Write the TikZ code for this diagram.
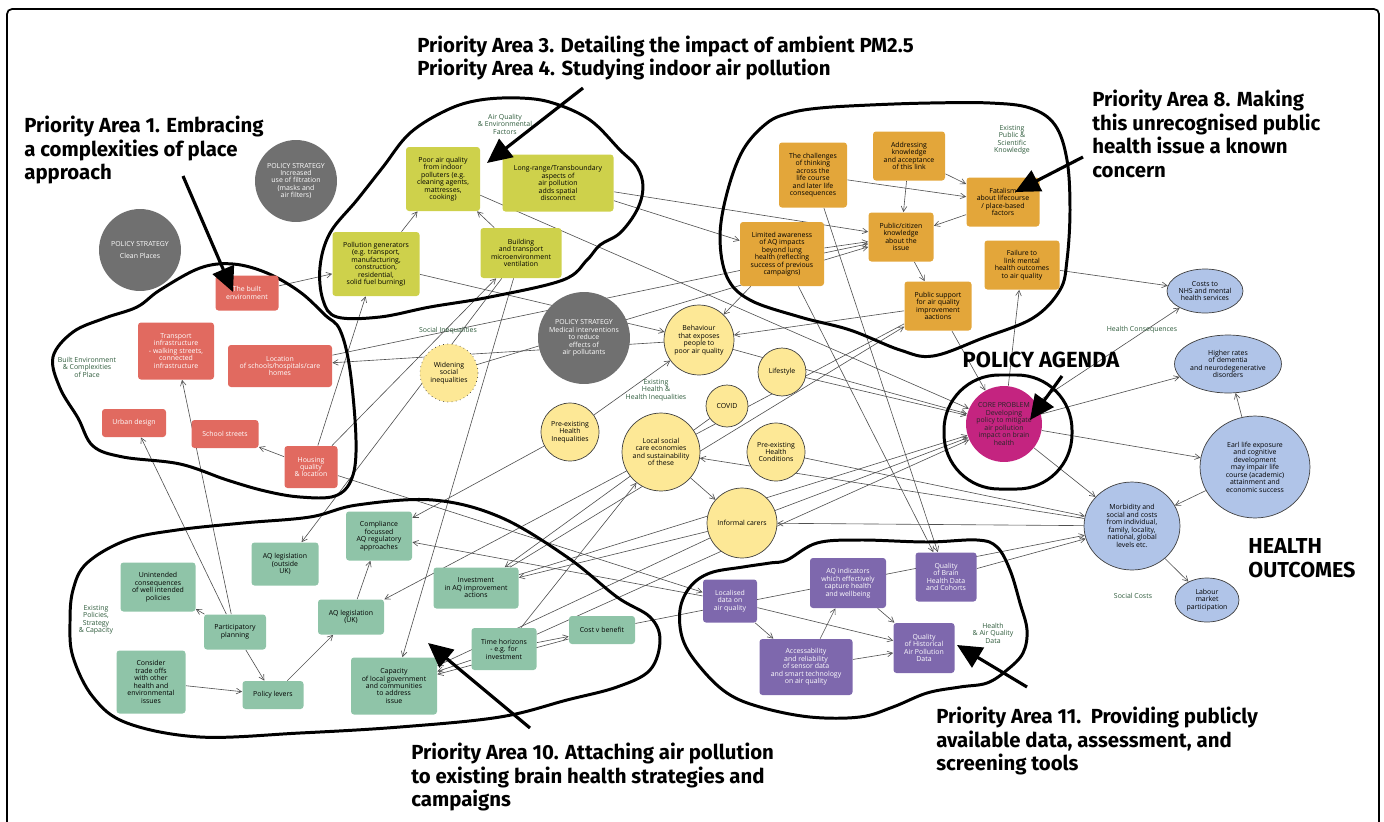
\documentclass[tikz,border=0pt]{standalone}
\usepackage{fontspec}
\setmainfont{Open Sans}
\newfontfamily\titlefont{Fira Sans}
\usepackage{xcolor}
\usetikzlibrary{arrows.meta,shapes.geometric,backgrounds}

\definecolor{cRed}{RGB}{225,106,96}
\definecolor{cOlive}{RGB}{206,209,75}
\definecolor{cOrange}{RGB}{227,166,58}
\definecolor{cYellow}{RGB}{253,232,150}
\definecolor{cGray}{RGB}{112,112,112}
\definecolor{cCore}{RGB}{196,36,128}
\definecolor{cBlue}{RGB}{176,196,232}
\definecolor{cGreen}{RGB}{143,196,168}
\definecolor{cPurple}{RGB}{126,104,173}
\definecolor{cLabel}{RGB}{45,90,58}
\definecolor{cLink}{RGB}{80,80,80}

\newcommand\nodefont{\fontsize{3.95}{4.25}\selectfont}
\newcommand\titlesize{\titlefont\bfseries\fontsize{11.6}{13.4}\selectfont}

\begin{document}
\begin{tikzpicture}[x=0.02cm,y=-0.02cm,
  sz/.style 2 args={minimum width=#1*0.02cm,minimum height=#2*0.02cm},
  box/.style={rectangle,rounded corners=0.06cm,align=center,inner sep=0.5pt,font=\nodefont},
  env/.style={box,fill=cRed,text=white},
  aq/.style={box,fill=cOlive},
  know/.style={box,fill=cOrange},
  pol/.style={box,fill=cGreen},
  aqdata/.style={box,fill=cPurple,text=white},
  disc/.style={circle,inner sep=0pt,align=center,font=\nodefont,minimum size=#1*0.04cm},
  strat/.style={disc=#1,fill=cGray,text=white},
  ineq/.style={disc=#1,fill=cYellow,draw=black!75,line width=0.4pt},
  oval/.style 2 args={ellipse,inner sep=0pt,align=center,font=\nodefont,minimum width=#1*0.04cm,minimum height=#2*0.04cm,fill=cBlue,draw=black!75,line width=0.4pt},
  lbl/.style={font=\nodefont,text=cLabel,align=center},
  title/.style={font=\titlesize,align=left,inner sep=0pt,anchor=west},
  link/.style={draw=cLink,line width=0.35pt,-{Straight Barb[length=3pt,width=3.2pt]}},
  blob/.style={line width=1.7pt,line join=round},
  bigarrow/.style={line width=1.8pt,-{Triangle[length=14pt,width=13pt]}}]
\useasboundingbox (0,0) rectangle (1384,822);
\draw[line width=1pt,rounded corners=0.1cm] (7,9) rectangle (1379,840);

% policy strategies
\node[strat=41] (clean) at (140,250) {POLICY STRATEGY\\[3pt]Clean Places};
\node[strat=41] (filter) at (296,181) {POLICY STRATEGY\\Increased\\use of filtration\\(masks and\\air filters)};
\node[strat=46] (medical) at (584,338) {POLICY STRATEGY\\Medical interventions\\to reduce\\effects of\\air pollutants};

% built environment
\node[env,sz={63}{35}] (built) at (247,293) {The built\\environment};
\node[env,sz={76}{57}] (transport) at (176,351) {Transport\\infrastructure\\- walking streets,\\connected\\infrastructure};
\node[env,sz={104}{42}] (location) at (280,366) {Location\\of schools/hospitals/care\\homes};
\node[env,sz={64}{28}] (urban) at (134,423) {Urban design};
\node[env,sz={67}{28}] (school) at (225,434) {School streets};
\node[env,sz={53}{42}] (housing) at (311,467) {Housing\\quality\\\& location};

% air quality
\node[aq,sz={74}{64}] (poorair) at (443,179) {Poor air quality\\from indoor\\polluters (e.g.\\cleaning agents,\\mattresses,\\cooking)};
\node[aq,sz={111}{57}] (longrange) at (558,183) {Long-range/Transboundary\\aspects of\\air pollution\\adds spatial\\disconnect};
\node[aq,sz={87}{64}] (pollgen) at (376,264) {Pollution generators\\(e.g. transport,\\manufacturing,\\construction,\\residential,\\solid fuel burning)};
\node[aq,sz={81}{50}] (building) at (521,253) {Building\\and transport\\microenvironment\\ventilation};

% knowledge
\node[know,sz={68}{65}] (challenges) at (813,175) {The challenges\\of thinking\\across the\\life course\\and later life\\consequences};
\node[know,sz={72}{49}] (addressing) at (909,156) {Addressing\\knowledge\\and acceptance\\of this link};
\node[know,sz={73}{49}] (fatalism) at (1003,202) {Fatalism\\about lifecourse\\/ place-based\\factors};
\node[know,sz={65}{49}] (publiccit) at (901,237) {Public/citizen\\knowledge\\about the\\issue};
\node[know,sz={84}{64}] (limited) at (782,254) {Limited awareness\\of AQ impacts\\beyond lung\\health (reflecting\\success of previous\\campaigns)};
\node[know,sz={67}{49}] (support) at (938,306) {Public support\\for air quality\\improvement\\aactions};
\node[know,sz={75}{49}] (failure) at (1022,265) {Failure to\\link mental\\health outcomes\\to air quality};

% health and inequalities
\node[ineq=29,dotted] (widening) at (449,373) {Widening\\social\\inequalities};
\node[ineq=35] (behaviour) at (699,340) {Behaviour\\that exposes\\people to\\poor air quality};
\node[ineq=24] (lifestyle) at (782,372) {Lifestyle};
\node[ineq=21] (covid) at (727,406) {COVID};
\node[ineq=29] (prehi) at (570,432) {Pre-existing\\Health\\Inequalities};
\node[ineq=39] (localcare) at (661,452) {Local social\\care economies\\and sustainability\\of these};
\node[ineq=29] (prehc) at (776,452) {Pre-existing\\Health\\Conditions};
\node[ineq=35] (carers) at (742,523) {Informal carers};

\node[disc=38,fill=cCore,text=black!85] (core) at (1004,424) {CORE PROBLEM\\Developing\\policy to mitigate\\air pollution\\impact on brain\\health};

% health outcomes
\node[oval={38}{22}] (costs) at (1205,291) {Costs to\\NHS and mental\\health services};
\node[oval={53}{29}] (higher) at (1228,364) {Higher rates\\of dementia\\and neurodegenerative\\disorders};
\node[oval={55}{51}] (earl) at (1255,467) {Earl life exposure\\and cognitive\\development\\may impair life\\course (academic)\\attainment and\\economic success};
\node[oval={48}{44}] (morbidity) at (1132,526) {Morbidity and\\social and costs\\from individual,\\family, locality,\\national, global\\levels etc.};
\node[oval={32}{22}] (labour) at (1207,600) {Labour\\market\\participation};

% policies
\node[pol,sz={66}{49}] (compliance) at (379,536) {Compliance\\focussed\\AQ regulatory\\approaches};
\node[pol,sz={67}{43}] (aqout) at (285,564) {AQ legislation\\(outside\\UK)};
\node[pol,sz={75}{49}] (unintended) at (158,587) {Unintended\\consequences\\of well intended\\policies};
\node[pol,sz={62}{35}] (partic) at (235,632) {Participatory\\planning};
\node[pol,sz={66}{35}] (aquk) at (351,617) {AQ legislation\\(UK)};
\node[pol,sz={69}{63}] (tradeoffs) at (151,682) {Consider\\trade offs\\with other\\health and\\environmental\\issues};
\node[pol,sz={61}{28}] (levers) at (273,695) {Policy levers};
\node[pol,sz={86}{57}] (capacity) at (394,686) {Capacity\\of local government\\and communities\\to address\\issue};
\node[pol,sz={85}{41}] (investment) at (476,588) {Investment\\in AQ improvement\\actions};
\node[pol,sz={65}{42}] (timeh) at (504,649) {Time horizons\\- e.g. for\\investment};
\node[pol,sz={66}{28}] (costv) at (602,630) {Cost v benefit};

% data
\node[aqdata,sz={54}{43}] (localised) at (730,601) {Localised\\data on\\air quality};
\node[aqdata,sz={76}{50}] (aqind) at (848,583) {AQ indicators\\which effectively\\capture health\\and wellbeing};
\node[aqdata,sz={61}{49}] (qbrain) at (946,577) {Quality\\of Brain\\Health Data\\and Cohorts};
\node[aqdata,sz={93}{56}] (accessab) at (806,667) {Accessability\\and reliability\\of sensor data\\and smart technology\\on air quality};
\node[aqdata,sz={61}{50}] (qhist) at (924,648) {Quality\\of Historical\\Air Pollution\\Data};

% cluster labels
\node[lbl] at (87,367) {Built Environment\\\& Complexities\\of Place};
\node[lbl] at (505,124) {Air Quality\\\& Environmental\\Factors};
\node[lbl] at (1012,140) {Existing\\Public \&\\Scientific\\Knowledge};
\node[lbl] at (448,331) {Social Inequalities};
\node[lbl] at (656,390) {Existing\\Health \&\\Health Inequalities};
\node[lbl] at (1142,330) {Health Consequences};
\node[lbl] at (96,620) {Existing\\Policies,\\Strategy\\\& Capacity};
\node[lbl] at (993,633) {Health\\\& Air Quality\\Data};
\node[lbl] at (1133,596) {Social Costs};

% connectors and clusters
\begin{scope}[on background layer]
\foreach \s/\t in {built/pollgen, pollgen/poorair, building/poorair, poorair/core,
  longrange/publiccit, longrange/limited, pollgen/behaviour, building/aqout,
  housing/pollgen, housing/building, housing/school, behaviour/location,
  partic/transport, partic/urban, addressing/publiccit, addressing/fatalism,
  challenges/fatalism, fatalism/publiccit, limited/publiccit, publiccit/support,
  support/behaviour, core/failure, failure/costs, challenges/qbrain,
  limited/qbrain, support/core, lifestyle/core, behaviour/core, carers/core,
  core/higher, core/earl, core/morbidity, earl/higher, earl/morbidity,
  morbidity/labour, core/costs, morbidity/carers, morbidity/localcare,
  qbrain/morbidity, costv/morbidity, prehc/morbidity, localcare/carers,
  partic/unintended, partic/levers, tradeoffs/levers, levers/aquk,
  aquk/compliance, timeh/costv, timeh/capacity, costv/capacity,
  building/capacity, covid/investment, investment/core, timeh/core,
  timeh/localcare, support/aquk, prehi/compliance, localised/compliance,
  prehi/behaviour, limited/behaviour, carers/investment, carers/capacity,
  localised/accessab, localised/qhist, accessab/aqind, accessab/qhist,
  aqind/qhist, housing/localised, investment/support, location/publiccit,
  widening/publiccit}
  \draw[link] (\s) -- (\t);

\draw[blob] plot[smooth cycle,tension=0.6] coordinates {(53,357) (73,332) (105,318)
  (137,307) (160,290) (200,268) (233,264) (267,273) (300,292) (325,315) (340,330)
  (350,370) (356,440) (352,478) (335,496) (300,497) (265,491) (227,480) (180,464)
  (123,457) (93,446) (78,418) (60,388)};
\draw[blob] plot[smooth cycle,tension=0.6] coordinates {(337,317) (323,300) (320,267)
  (330,233) (357,200) (383,167) (410,133) (447,110) (480,100) (520,98) (553,103)
  (590,120) (620,150) (637,167) (643,187) (637,210) (620,233) (600,245) (587,260)
  (563,280) (490,297) (430,307) (380,317)};
\draw[blob] plot[smooth cycle,tension=0.6] coordinates {(767,123) (743,150) (727,193)
  (720,237) (727,277) (750,300) (800,317) (850,330) (900,350) (933,356) (983,338)
  (1033,318) (1060,290) (1067,260) (1070,210) (1067,160) (1055,125) (1030,108)
  (990,103) (930,103) (870,105) (820,108) (790,113)};
\draw[blob] plot[smooth cycle,tension=0.6] coordinates {(70,623) (73,590) (87,563)
  (127,540) (177,530) (243,523) (310,517) (357,505) (433,500) (500,517) (567,557)
  (617,597) (650,617) (660,640) (650,670) (617,687) (567,700) (500,717) (400,727)
  (300,733) (200,737) (127,723) (93,697) (73,657)};
\draw[blob] plot[smooth cycle,tension=0.6] coordinates {(787,560) (817,543) (860,540)
  (927,542) (977,540) (997,547) (1010,570) (1020,603) (1027,630) (1023,653)
  (1007,670) (987,683) (960,687) (927,693) (893,707) (860,717) (810,717) (760,707)
  (727,693) (700,667) (683,640) (680,610) (690,587) (710,573) (743,567) (770,563)};
\draw[blob,rounded corners=1.1cm] (944,375) rectangle (1072,489);
\end{scope}

% titles
\node[title] (pa1) at (24,150) {Priority Area 1. Embracing\\a complexities of place\\approach};
\node[title] (pa3) at (417,58) {Priority Area 3. Detailing the impact of ambient PM2.5\\Priority Area 4. Studying indoor air pollution};
\node[title] (pa8) at (1092,134) {Priority Area 8. Making\\this unrecognised public\\health issue a known\\concern};
\node[title,font=\titlefont\bfseries\fontsize{12.5}{15}\selectfont,anchor=center] (agenda) at (1041,360) {POLICY AGENDA};
\node[title,font=\titlefont\bfseries\fontsize{12.3}{13.6}\selectfont] (outcomes) at (1248,558) {HEALTH\\OUTCOMES};
\node[title] (pa10) at (411,777) {Priority Area 10. Attaching air pollution\\to existing brain health strategies and\\campaigns};
\node[title] (pa11) at (936,741) {Priority Area 11.\ \ Providing publicly\\available data, assessment, and\\screening tools};

% big arrows
\coordinate (pa1s) at (183,176);  \coordinate (pa1e) at (233,292);
\coordinate (pa3s) at (583,88);   \coordinate (pa3e) at (487,163);
\coordinate (pa8s) at (1083,157); \coordinate (pa8e) at (1015,192);
\coordinate (ags) at (1062,376);  \coordinate (age) at (1030,420);
\coordinate (pa10s) at (530,728); \coordinate (pa10e) at (428,643);
\coordinate (pa11s) at (1027,687); \coordinate (pa11e) at (957,645);
\draw[bigarrow] (pa1s) -- (pa1e);
\draw[bigarrow] (pa3s) -- (pa3e);
\draw[bigarrow] (pa8s) -- (pa8e);
\draw[bigarrow] (ags) -- (age);
\draw[bigarrow] (pa10s) -- (pa10e);
\draw[bigarrow] (pa11s) -- (pa11e);
\end{tikzpicture}
\end{document}
